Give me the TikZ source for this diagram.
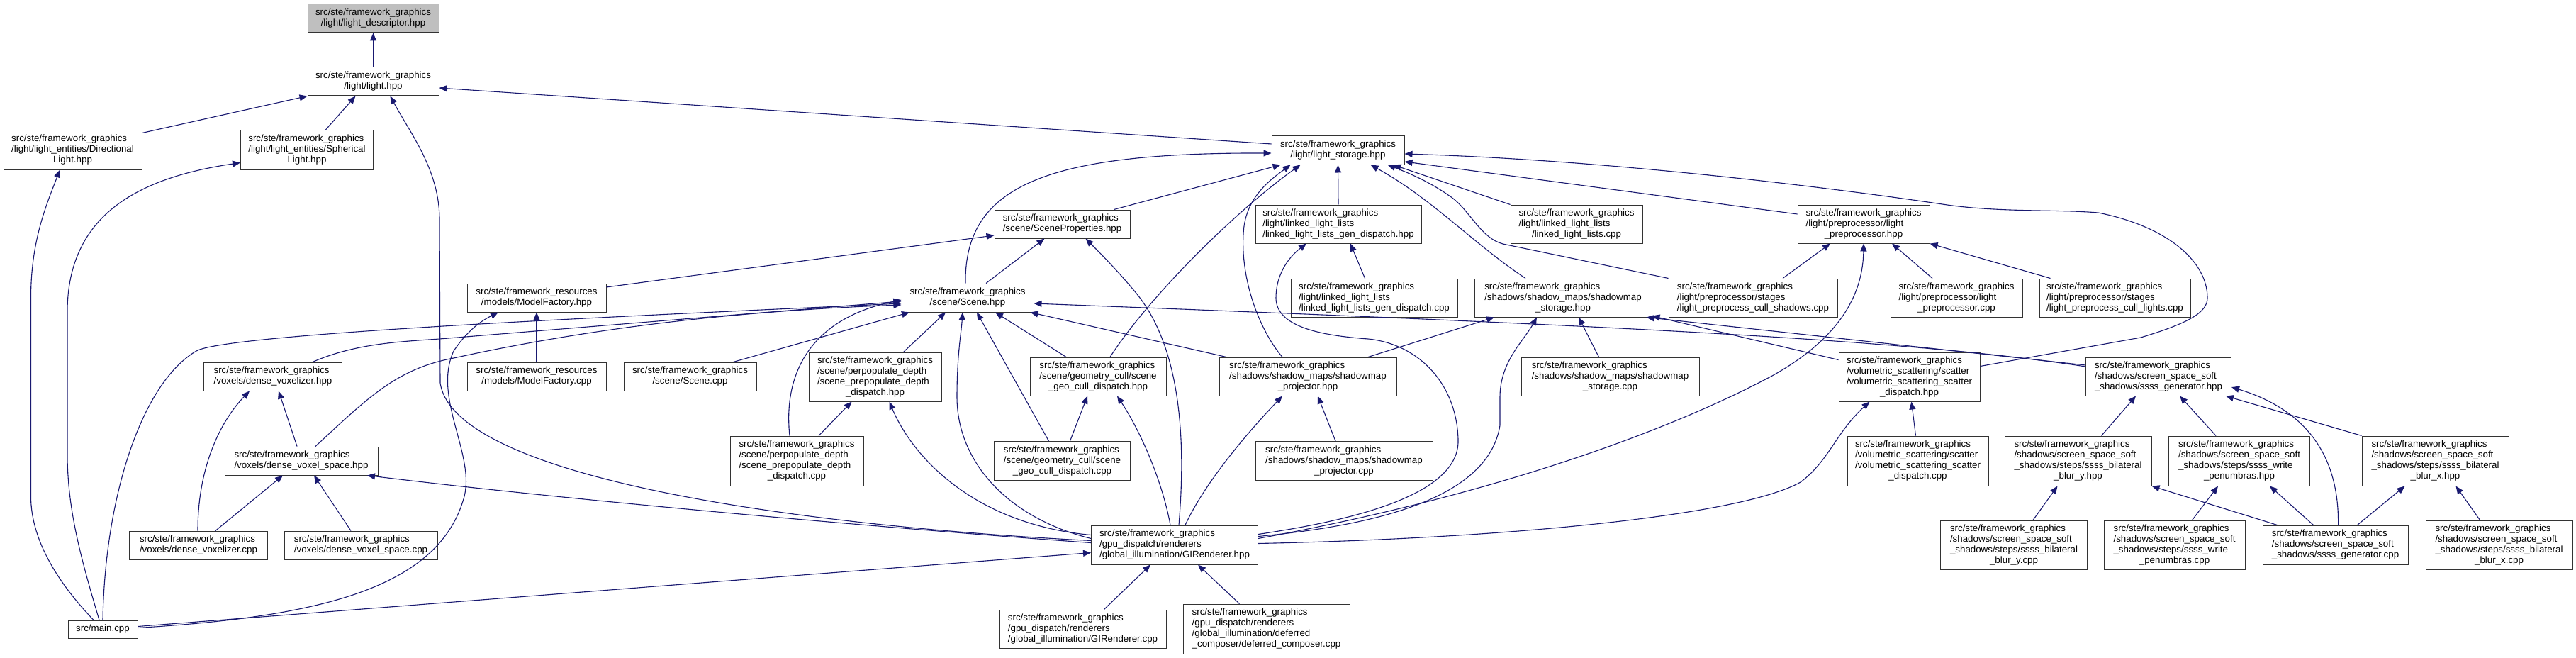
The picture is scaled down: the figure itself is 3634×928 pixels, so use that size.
\documentclass[tikz,border=0pt]{standalone}
\usepackage{fontspec}
\setmainfont{Liberation Sans}
\usetikzlibrary{arrows.meta}
\definecolor{navy}{HTML}{191970}
\definecolor{boxline}{HTML}{333333}
\definecolor{hilite}{HTML}{BFBFBF}
\newcommand{\dlab}[2]{\begin{tabular}{@{}l@{}}#1\\\multicolumn{1}{@{}c@{}}{#2}\end{tabular}}
\newcommand{\sfg}{src/ste/framework\_graphics}
\newcommand{\sfr}{src/ste/framework\_resources}
\begin{document}
\begin{tikzpicture}[x=1pt,y=-1pt,
  box/.style={draw=boxline, line width=1pt, fill=white, inner sep=0pt, align=center,
    font=\fontsize{13.33}{15}\selectfont},
  bx/.style 2 args={box, minimum width=#1pt, minimum height=#2pt},
  ed/.style={draw=navy, line width=1.1pt, -{Triangle[length=11pt,width=9pt]}}]
\useasboundingbox (0,0) rectangle (3634,928);
% ---------------- nodes ----------------
\node[bx={185}{40}, fill=hilite] (ld) at (526.5,26) {\dlab{\sfg}{/light/light\_descriptor.hpp}};
\node[bx={185}{40}] (light) at (526.5,115) {\dlab{\sfg}{/light/light.hpp}};
\node[bx={195}{55}] (dirl) at (102.5,211.5) {\dlab{\sfg\\/light/light\_entities/Directional}{Light.hpp}};
\node[bx={187}{55}] (sphl) at (433,211.5) {\dlab{\sfg\\/light/light\_entities/Spherical}{Light.hpp}};
\node[bx={187}{40}] (lstor) at (1887.5,212) {\dlab{\sfg}{/light/light\_storage.hpp}};
\node[bx={191}{40}] (sprop) at (1498.5,316) {\dlab{\sfg}{/scene/SceneProperties.hpp}};
\node[bx={234}{54}] (lgdh) at (1888,316) {\dlab{\sfg\\/light/linked\_light\_lists}{/linked\_light\_lists\_gen\_dispatch.hpp}};
\node[bx={186}{54}] (llc) at (2224,316) {\dlab{\sfg\\/light/linked\_light\_lists}{/linked\_light\_lists.cpp}};
\node[bx={186}{54}] (lpph) at (2629,316) {\dlab{\sfg\\/light/preprocessor/light}{\_preprocessor.hpp}};
\node[bx={196}{40}] (mfh) at (757,420) {\dlab{\sfr}{/models/ModelFactory.hpp}};
\node[bx={186}{40}] (scene) at (1365,420) {\dlab{\sfg}{/scene/Scene.hpp}};
\node[bx={235}{54}] (lgdc) at (1938.5,420) {\dlab{\sfg\\/light/linked\_light\_lists}{/linked\_light\_lists\_gen\_dispatch.cpp}};
\node[bx={250}{54}] (smsh) at (2205,420) {\dlab{\sfg\\/shadows/shadow\_maps/shadowmap}{\_storage.hpp}};
\node[bx={238}{54}] (lpcs) at (2473,420) {\dlab{\sfg\\/light/preprocessor/stages}{/light\_preprocess\_cull\_shadows.cpp}};
\node[bx={186}{54}] (lppc) at (2760,420) {\dlab{\sfg\\/light/preprocessor/light}{\_preprocessor.cpp}};
\node[bx={213}{54}] (lpcl) at (2983.5,420) {\dlab{\sfg\\/light/preprocessor/stages}{/light\_preprocess\_cull\_lights.cpp}};
\node[bx={195}{40}] (dvzh) at (385,531) {\dlab{\sfg}{/voxels/dense\_voxelizer.hpp}};
\node[bx={196}{40}] (mfc) at (757,531) {\dlab{\sfr}{/models/ModelFactory.cpp}};
\node[bx={187}{40}] (scenec) at (973.5,531) {\dlab{\sfg}{/scene/Scene.cpp}};
\node[bx={187}{69}] (ppdh) at (1234.5,531.5) {\dlab{\sfg\\/scene/perpopulate\_depth\\/scene\_prepopulate\_depth}{\_dispatch.hpp}};
\node[bx={192}{54}] (gcdh) at (1549,531) {\dlab{\sfg\\/scene/geometry\_cull/scene}{\_geo\_cull\_dispatch.hpp}};
\node[bx={250}{54}] (smph) at (1845,531) {\dlab{\sfg\\/shadows/shadow\_maps/shadowmap}{\_projector.hpp}};
\node[bx={251}{54}] (smsc) at (2271.5,531) {\dlab{\sfg\\/shadows/shadow\_maps/shadowmap}{\_storage.cpp}};
\node[bx={199}{69}] (vsdh) at (2693.5,531.5) {\dlab{\sfg\\/volumetric\_scattering/scatter\\/volumetric\_scattering\_scatter}{\_dispatch.hpp}};
\node[bx={205}{54}] (ssgh) at (3045,531) {\dlab{\sfg\\/shadows/screen\_space\_soft}{\_shadows/ssss\_generator.hpp}};
\node[bx={216}{40}] (dvsh) at (425,650) {\dlab{\sfg}{/voxels/dense\_voxel\_space.hpp}};
\node[bx={188}{70}] (ppdc) at (1124,650) {\dlab{\sfg\\/scene/perpopulate\_depth\\/scene\_prepopulate\_depth}{\_dispatch.cpp}};
\node[bx={192}{55}] (gcdc) at (1498.5,650) {\dlab{\sfg\\/scene/geometry\_cull/scene}{\_geo\_cull\_dispatch.cpp}};
\node[bx={250}{55}] (smpc) at (1896,650) {\dlab{\sfg\\/shadows/shadow\_maps/shadowmap}{\_projector.cpp}};
\node[bx={199}{70}] (vsdc) at (2705.5,650) {\dlab{\sfg\\/volumetric\_scattering/scatter\\/volumetric\_scattering\_scatter}{\_dispatch.cpp}};
\node[bx={207}{70}] (bych) at (2931.5,650) {\dlab{\sfg\\/shadows/screen\_space\_soft\\\_shadows/steps/ssss\_bilateral}{\_blur\_y.hpp}};
\node[bx={199}{70}] (wph) at (3159,650) {\dlab{\sfg\\/shadows/screen\_space\_soft\\\_shadows/steps/ssss\_write}{\_penumbras.hpp}};
\node[bx={207}{70}] (bxh) at (3435.5,650) {\dlab{\sfg\\/shadows/screen\_space\_soft\\\_shadows/steps/ssss\_bilateral}{\_blur\_x.hpp}};
\node[bx={195}{40}] (dvzc) at (280,769) {\dlab{\sfg}{/voxels/dense\_voxelizer.cpp}};
\node[bx={216}{40}] (dvsc) at (509,769) {\dlab{\sfg}{/voxels/dense\_voxel\_space.cpp}};
\node[bx={235}{55}] (gih) at (1657,768.5) {\dlab{\sfg\\/gpu\_dispatch/renderers}{/global\_illumination/GIRenderer.hpp}};
\node[bx={207}{69}] (byc) at (2841,768.5) {\dlab{\sfg\\/shadows/screen\_space\_soft\\\_shadows/steps/ssss\_bilateral}{\_blur\_y.cpp}};
\node[bx={199}{69}] (wpc) at (3067.5,768.5) {\dlab{\sfg\\/shadows/screen\_space\_soft\\\_shadows/steps/ssss\_write}{\_penumbras.cpp}};
\node[bx={205}{55}] (ssgc) at (3294.5,768.5) {\dlab{\sfg\\/shadows/screen\_space\_soft}{\_shadows/ssss\_generator.cpp}};
\node[bx={207}{69}] (bxc) at (3525.5,768.5) {\dlab{\sfg\\/shadows/screen\_space\_soft\\\_shadows/steps/ssss\_bilateral}{\_blur\_x.cpp}};
\node[bx={98}{25}] (main) at (145,887.5) {src/main.cpp};
\node[bx={235}{54}] (gic) at (1527.5,887) {\dlab{\sfg\\/gpu\_dispatch/renderers}{/global\_illumination/GIRenderer.cpp}};
\node[bx={235}{70}] (dcc) at (1786.5,887) {\dlab{\sfg\\/gpu\_dispatch/renderers\\/global\_illumination/deferred}{\_composer/deferred\_composer.cpp}};
% ---------------- edges ----------------
\draw[ed] (light.north) -- (ld.south);
\draw[ed] ([yshift=-4]dirl.north east) -- (light.south west);
\draw[ed] ([xshift=26]sphl.north) -- ([xshift=-25]light.south);
\draw[ed] ([yshift=9]lstor.west) -- ([yshift=-9]light.east);
\draw[ed] ([yshift=6]gih.west) .. controls (1100,740) and (640,670) .. (621,540) -- (620,310) .. controls (620,240) and (580,190) .. ([xshift=24]light.south);
\draw[ed] ([xshift=-13]main.north) .. controls (80,820) and (43.5,760) .. (43.5,700) -- (43.5,420) .. controls (43.5,340) and (65,290) .. ([xshift=-18]dirl.south);
\draw[ed] ([xshift=-5]main.north) .. controls (115,790) and (95,720) .. (95,640) -- (95,440) .. controls (95,300) and (200,250) .. ([yshift=-18]sphl.west);
\draw[ed] (main.north) .. controls (148,700) and (200,540) .. (277,495) .. controls (320,470) and (900,445) .. ([yshift=-8]scene.west);
\draw[ed] ([yshift=4]main.east) -- ([yshift=-11]gih.west);
\draw[ed] ([yshift=2]main.east) .. controls (450,870) and (620,830) .. (655,700) .. controls (670,640) and (610,560) .. (640,495) .. controls (660,465) and (680,452) .. ([xshift=-54]mfh.south);
\draw[ed] (mfc.north) -- (mfh.south);
\draw[ed] ([yshift=15]mfh.east) -- ([yshift=-16]sprop.west);
\draw[ed] ([xshift=73]sprop.north) -- ([xshift=-81]lstor.south);
\draw[ed] ([xshift=-3]scene.north) .. controls (1360,260) and (1480,215) .. ([yshift=-4]lstor.west);
\draw[ed] ([xshift=26]scene.north) -- ([xshift=-25]sprop.south);
\draw[ed] ([xshift=6]gih.north) .. controls (1675,600) and (1660,480) .. (1600,410) .. controls (1575,380) and (1550,355) .. ([xshift=33]sprop.south);
\draw[ed] ([xshift=17]gcdh.north) .. controls (1620,420) and (1740,300) .. ([xshift=-53]lstor.south);
\draw[ed] ([xshift=-36]smph.north) .. controls (1780,470) and (1750,400) .. (1754,330) .. controls (1756,280) and (1790,255) .. ([xshift=-67]lstor.south);
\draw[ed] (lgdh.north) -- (lstor.south);
\draw[ed] ([xshift=-53]smsh.north) .. controls (2080,345) and (2020,280) .. ([xshift=46]lstor.south);
\draw[ed] (lpcs.north west) -- (2120,344) .. controls (2090,336) and (2075,300) .. (2050,280) .. controls (2020,258) and (1990,245) .. ([xshift=70]lstor.south);
\draw[ed] (llc.north west) -- ([xshift=78]lstor.south);
\draw[ed] ([yshift=15]vsdh.east) -- (3020,476) .. controls (3090,455) and (3114,440) .. (3114,420) .. controls (3114,370) and (3060,320) .. (2960,300) .. controls (2900,295) and (2820,300) .. (2740,288) .. controls (2550,260) and (2250,225) .. ([yshift=-5]lstor.east);
\draw[ed] ([yshift=14]lpph.west) -- ([yshift=-16]lstor.east);
\draw[ed] ([xshift=-13]lgdc.north) -- ([xshift=17]lgdh.south);
\draw[ed] ([yshift=15]gih.east) .. controls (1900,735) and (2060,700) .. (2057,620) .. controls (2055,540) and (2000,485) .. (1930,478) .. controls (1860,473) and (1800,460) .. (1800,420) .. controls (1800,390) and (1815,365) .. ([xshift=-45]lgdh.south);
\draw[ed] ([xshift=85]smph.north) -- ([xshift=-97]smsh.south);
\draw[ed] ([yshift=12]gih.east) .. controls (1950,740) and (2100,700) .. (2116,600) -- (2116,560) .. controls (2116,510) and (2150,480) .. ([xshift=-37]smsh.south);
\draw[ed] ([xshift=-16]smsc.north) -- ([xshift=22]smsh.south);
\draw[ed] ([yshift=24]vsdh.west) -- ([yshift=2]smsh.south east);
\draw[ed] ([yshift=16]ssgh.west) -- ([xshift=-8]smsh.south east);
\draw[ed] ([yshift=14]ssgh.west) .. controls (2700,480) and (2300,460) .. ([yshift=-8]scene.east);
\draw[ed] ([xshift=42]lpcs.north) -- ([xshift=-47]lpph.south);
\draw[ed] ([yshift=9]gih.east) .. controls (2100,700) and (2350,610) .. (2500,530) .. controls (2590,480) and (2628,420) .. (lpph.south);
\draw[ed] ([xshift=-34]lppc.north) -- ([xshift=40]lpph.south);
\draw[ed] ([xshift=-91]lpcl.north) -- (lpph.south east);
\draw[ed] ([yshift=2]gih.east) .. controls (2100,760) and (2450,730) .. (2540,680) .. controls (2580,650) and (2590,610) .. ([xshift=-56]vsdh.south);
\draw[ed] ([xshift=-3]vsdc.north) -- ([xshift=3]vsdh.south);
\draw[ed] ([xshift=-6]dvsh.north) -- ([xshift=8]dvzh.south);
\draw[ed] ([xshift=-1]dvzc.north) .. controls (279,660) and (310,595) .. ([xshift=-33]dvzh.south);
\draw[ed] ([xshift=24]dvzc.north) -- ([xshift=-26]dvsh.south);
\draw[ed] ([xshift=-14]dvsc.north) -- ([xshift=18]dvsh.south);
\draw[ed] ([yshift=3]gih.west) .. controls (1250,745) and (800,705) .. ([xshift=93]dvsh.south);
\draw[ed] ([yshift=9]gih.west) .. controls (1420,730) and (1350,650) .. (1350,560) .. controls (1350,500) and (1356,470) .. ([xshift=-7]scene.south);
\draw[ed] ([yshift=14]gih.west) .. controls (1380,740) and (1290,650) .. ([xshift=20]ppdh.south);
\draw[ed] ([xshift=31]ppdc.north) -- ([xshift=-33]ppdh.south);
\draw[ed] ([xshift=40]ppdh.north) -- ([xshift=-31]scene.south);
\draw[ed] ([xshift=61]scenec.north) -- ([xshift=-82]scene.south);
\draw[ed] ([xshift=-19]gcdc.north) -- ([xshift=13]scene.south);
\draw[ed] ([xshift=-45]gcdh.north) -- ([xshift=39]scene.south);
\draw[ed] ([xshift=-115]smph.north) -- ([xshift=-5]scene.south east);
\draw[ed] ([xshift=11]gcdc.north) -- ([xshift=-15]gcdh.south);
\draw[ed] ([xshift=-6]gih.north) .. controls (1640,680) and (1610,610) .. ([xshift=27]gcdh.south);
\draw[ed] ([xshift=-12]smpc.north) -- ([xshift=14]smph.south);
\draw[ed] ([xshift=15]gih.north) .. controls (1700,680) and (1760,610) .. ([xshift=-36]smph.south);
\draw[ed] ([xshift=30]gic.north) -- ([xshift=-34]gih.south);
\draw[ed] ([xshift=-38]dcc.north) -- ([xshift=33]gih.south);
\draw[ed] ([xshift=56]dvzh.north) .. controls (500,485) and (560,482) .. (620,478) -- ([yshift=-5]scene.west);
\draw[ed] ([xshift=20]dvsh.north) .. controls (520,560) and (560,520) .. (640,505) .. controls (800,470) and (1000,440) .. ([yshift=-10]scene.west);
\draw[ed] ([xshift=-10]ppdc.north) .. controls (1105,530) and (1140,450) .. ([yshift=-3]scene.west);
\draw[ed] ([xshift=33]bych.north) -- ([xshift=-32]ssgh.south);
\draw[ed] ([xshift=-33]wph.north) -- ([xshift=30]ssgh.south);
\draw[ed] (bxh.north west) -- ([xshift=-8]ssgh.south east);
\draw[ed] ([xshift=4]ssgc.north) .. controls (3300,650) and (3260,580) .. ([yshift=-15]ssgh.east);
\draw[ed] ([xshift=27]byc.north) -- ([xshift=-29]bych.south);
\draw[ed] ([xshift=25]wpc.north) -- ([xshift=-30]wph.south);
\draw[ed] ([xshift=-31]ssgc.north) -- ([xshift=43]wph.south);
\draw[ed] ([xshift=31]ssgc.north) -- ([xshift=-43]bxh.south);
\draw[ed] ([xshift=-27]bxc.north) -- ([xshift=29]bxh.south);
\draw[ed] ([xshift=-82]ssgc.north) -- (bych.south east);
\end{tikzpicture}
\end{document}
